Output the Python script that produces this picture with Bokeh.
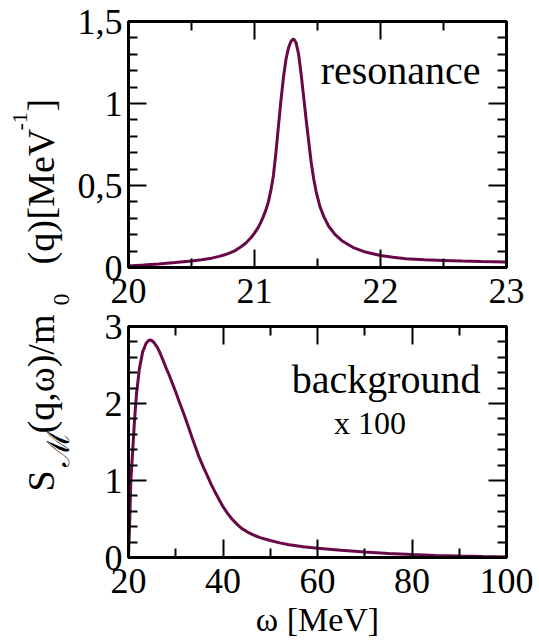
import numpy as np
from bokeh.plotting import figure
from bokeh.models import Range1d, FixedTicker, LinearAxis, Label, CustomJSTickFormatter
from bokeh.layouts import row, column
from bokeh.embed import file_html
from bokeh.resources import INLINE

# ---------------- data ----------------
res_omega = [20.0, 20.12, 20.24, 20.37, 20.5, 20.58, 20.66, 20.72, 20.77, 20.81,
             20.85, 20.89, 20.93, 20.97, 21.0, 21.03, 21.05, 21.07, 21.09, 21.11,
             21.13, 21.15, 21.17, 21.19, 21.21, 21.23, 21.25, 21.27, 21.29, 21.31,
             21.33, 21.35, 21.37, 21.39, 21.41, 21.43, 21.45, 21.47, 21.49, 21.52,
             21.55, 21.59, 21.64, 21.70, 21.78, 21.88, 22.0, 22.1, 22.2, 22.35,
             22.5, 22.65, 22.8, 23.0]
res_strength = [0.009, 0.015, 0.022, 0.030, 0.039, 0.047, 0.057, 0.068, 0.079, 0.091,
                0.105, 0.125, 0.148, 0.180, 0.21, 0.245, 0.275, 0.31, 0.35, 0.40,
                0.47, 0.56, 0.70, 0.86, 1.02, 1.16, 1.27, 1.34, 1.38, 1.395,
                1.37, 1.30, 1.18, 1.04, 0.90, 0.77, 0.64, 0.54, 0.46, 0.37,
                0.31, 0.25, 0.20, 0.16, 0.123, 0.094, 0.073, 0.062, 0.054, 0.047,
                0.043, 0.039, 0.036, 0.033]

bg_omega = [20.0, 20.1, 20.25, 20.5, 20.9, 21.25, 21.7, 22.3, 23.0, 23.7,
            24.2, 24.6, 25.0, 25.4, 26.0, 26.5, 27.2, 27.9, 28.6, 29.3,
            30.0, 30.7, 31.4, 32.1, 32.8, 33.5, 34.2, 34.9, 35.8, 36.7,
            37.5, 38.4, 39.2, 40.0, 41.0, 41.9, 43.0, 44.0, 45.2, 46.5,
            48.0, 50.0, 52.0, 54.0, 57.0, 60.0, 65.0, 70.0, 75.0, 80.0,
            85.0, 90.0, 95.0, 100.0]
bg_strength = [0.0, 0.2, 0.45, 1.0, 1.40, 1.76, 2.13, 2.45, 2.67, 2.78,
               2.815, 2.825, 2.815, 2.79, 2.74, 2.68, 2.58, 2.47, 2.37, 2.26,
               2.15, 2.03, 1.915, 1.80, 1.675, 1.55, 1.43, 1.31, 1.18, 1.06,
               0.95, 0.84, 0.75, 0.66, 0.57, 0.50, 0.43, 0.375, 0.33, 0.29,
               0.255, 0.22, 0.19, 0.165, 0.14, 0.12, 0.094, 0.072, 0.053, 0.039,
               0.027, 0.018, 0.012, 0.007]

res_x_major = [20, 21, 22, 23]
res_x_minor = [20.5, 21.5, 22.5]
res_y_major = [0, 0.5, 1, 1.5]
res_y_labels = ["0", "0,5", "1", "1,5"]
res_y_minor = [0.1, 0.2, 0.3, 0.4, 0.6, 0.7, 0.8, 0.9, 1.1, 1.2, 1.3, 1.4]

bg_x_major = [20, 40, 60, 80, 100]
bg_x_minor = [30, 50, 70, 90]
bg_y_major = [0, 1, 2, 3]
bg_y_minor = [0.2, 0.4, 0.6, 0.8, 1.2, 1.4, 1.6, 1.8, 2.2, 2.4, 2.6, 2.8]

CURVE = "#690848"
FONT = "Liberation Serif"
TICK_FS = "36px"


def style_axis(ax, ticker, show_labels, standoff):
    ax.ticker = ticker
    ax.axis_line_width = 3
    ax.axis_line_color = "black"
    ax.major_tick_in = 18
    ax.major_tick_out = 0
    ax.minor_tick_in = 9
    ax.minor_tick_out = 0
    ax.major_tick_line_width = 2
    ax.minor_tick_line_width = 2
    ax.major_tick_line_color = "black"
    ax.minor_tick_line_color = "black"
    ax.major_label_text_font = FONT
    ax.major_label_text_color = "black"
    ax.major_label_text_font_size = TICK_FS
    if show_labels:
        ax.major_label_standoff = standoff
    else:
        ax.formatter = CustomJSTickFormatter(code="return ''")
        ax.major_label_standoff = 0


def make_panel(xr, yr, h, bt, bb, xmaj, xmin, ymaj, ymin):
    p = figure(width=465, height=h, x_range=Range1d(*xr), y_range=Range1d(*yr),
               toolbar_location=None, output_backend="svg",
               min_border_left=53, min_border_right=33,
               min_border_top=bt, min_border_bottom=bb)
    p.xgrid.visible = False
    p.ygrid.visible = False
    p.outline_line_color = "black"
    p.outline_line_width = 3
    p.background_fill_color = "white"
    p.border_fill_color = "white"
    style_axis(p.below[0], FixedTicker(ticks=xmaj, minor_ticks=xmin), True, 11)
    style_axis(p.left[0], FixedTicker(ticks=ymaj, minor_ticks=ymin), True, 6)
    top = LinearAxis()
    style_axis(top, FixedTicker(ticks=xmaj, minor_ticks=xmin), False, 0)
    p.add_layout(top, "above")
    right = LinearAxis()
    style_axis(right, FixedTicker(ticks=ymaj, minor_ticks=ymin), False, 0)
    p.add_layout(right, "right")
    return p


# ---------------- top panel: resonance ----------------
p1 = make_panel((20, 23), (0, 1.5), 313, 21, 46,
                res_x_major, res_x_minor, res_y_major, res_y_minor)
p1.left[0].major_label_overrides = dict(zip(res_y_major, res_y_labels))
p1.line(res_omega, res_strength, line_width=3, line_color=CURVE)
p1.add_layout(Label(x=22.794, y=1.20, text="resonance", text_font=FONT,
                    text_font_size="40px", text_align="right",
                    text_baseline="alphabetic", text_color="black"))

# ---------------- bottom panel: background ----------------
p2 = make_panel((20, 100), (0, 3), 327, 13, 78,
                bg_x_major, bg_x_minor, bg_y_major, bg_y_minor)
p2.line(bg_omega, bg_strength, line_width=3, line_color=CURVE)
p2.add_layout(Label(x=94.5, y=2.31, text="background", text_font=FONT,
                    text_font_size="40px", text_align="right",
                    text_baseline="alphabetic", text_color="black"))
p2.add_layout(Label(x=63.5, y=1.75, text="x 100", text_font=FONT,
                    text_font_size="32px", text_align="left",
                    text_baseline="alphabetic", text_color="black"))
xa = p2.below[0]
xa.axis_label = "ω [MeV]"
xa.axis_label_text_font = FONT
xa.axis_label_text_font_size = "34px"
xa.axis_label_text_font_style = "normal"
xa.axis_label_text_color = "black"
xa.axis_label_standoff = 5

# ---------------- shared y-axis title (own narrow canvas) ----------------
L = figure(width=74, height=640, x_range=Range1d(0, 74), y_range=Range1d(0, 640),
           toolbar_location=None, output_backend="svg",
           x_axis_type=None, y_axis_type=None,
           min_border_left=0, min_border_right=0, min_border_top=0, min_border_bottom=0)
L.xgrid.visible = False
L.ygrid.visible = False
L.outline_line_color = None
L.background_fill_color = "white"
L.border_fill_color = "white"

pieces = [
    # text, x (baseline), y (start), size
    ("S", 40, 149, "38px"),
    ("ℳ", 58, 174, "31px"),
    ("(q,ω)/m", 40, 207, "38px"),
    ("0", 61, 335, "24px"),
    ("(q)", 40, 376, "38px"),
    ("[MeV", 40, 421, "38px"),
    ("-1", 19, 510, "22px"),
    ("]", 40, 529, "38px"),
]
for txt, x, y, fs in pieces:
    L.add_layout(Label(x=x, y=y, text=txt, angle=np.pi / 2, text_font=FONT,
                       text_font_size=fs, text_align="left",
                       text_baseline="alphabetic", text_color="black"))

layout = row(L, column(p1, p2))

open("out.html", "w").write(file_html(layout, INLINE))
